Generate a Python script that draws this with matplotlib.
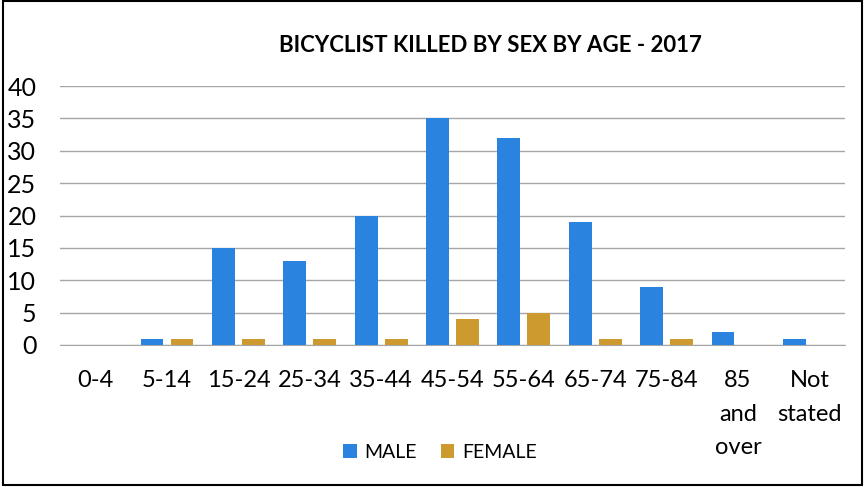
import numpy as np
import matplotlib.pyplot as plt
from matplotlib.patches import Rectangle

plt.rcParams['font.family'] = ['Lato', 'DejaVu Sans']

ages = ['0-4', '5-14', '15-24', '25-34', '35-44', '45-54', '55-64',
        '65-74', '75-84', '85\nand\nover', 'Not\nstated']
male = [0, 1, 15, 13, 20, 35, 32, 19, 9, 2, 1]
female = [0, 1, 1, 1, 1, 4, 5, 1, 1, 0, 0]

blue = '#2B83E0'
gold = '#CC9A2E'

fig = plt.figure(figsize=(8.66, 4.87), dpi=100)
ax = fig.add_axes([60/866, 1-345/487, 785/866, 259/487])

x = np.arange(len(ages))
w = 0.32
ax.bar(x - 0.21, male, w, color=blue, label='MALE', zorder=3)
ax.bar(x + 0.21, female, w, color=gold, label='FEMALE', zorder=3)

ax.set_xlim(-0.5, len(ages) - 0.5)
ax.set_ylim(0, 40)
ax.set_yticks(range(0, 41, 5))
ax.yaxis.grid(True, color='#A6A6A6', linewidth=1, zorder=0)
for s in ['left', 'right', 'top']:
    ax.spines[s].set_visible(False)
ax.spines['bottom'].set_color('#A6A6A6')
ax.tick_params(axis='y', length=0, pad=17, labelsize=18)
ax.tick_params(axis='x', length=0, pad=18, labelsize=17)
ax.set_xticks(x)
ax.set_xticklabels(ages, linespacing=1.75, va='top')

fig.text(490/866, 1-46/487, 'BICYCLIST KILLED BY SEX BY AGE - 2017',
         ha='center', va='center', fontsize=16, fontweight='bold')

fig.legend(loc='center', bbox_to_anchor=(440/866, 1-452/487), ncol=2,
           frameon=False, fontsize=14, handlelength=0.7, handleheight=0.7,
           columnspacing=1.2, handletextpad=0.4)

fig.patches.append(Rectangle((3/866, 2/487), 859/866, 484/487,
                             transform=fig.transFigure, fill=False,
                             edgecolor='black', linewidth=1.5))

fig.savefig('out.png', dpi=100)
